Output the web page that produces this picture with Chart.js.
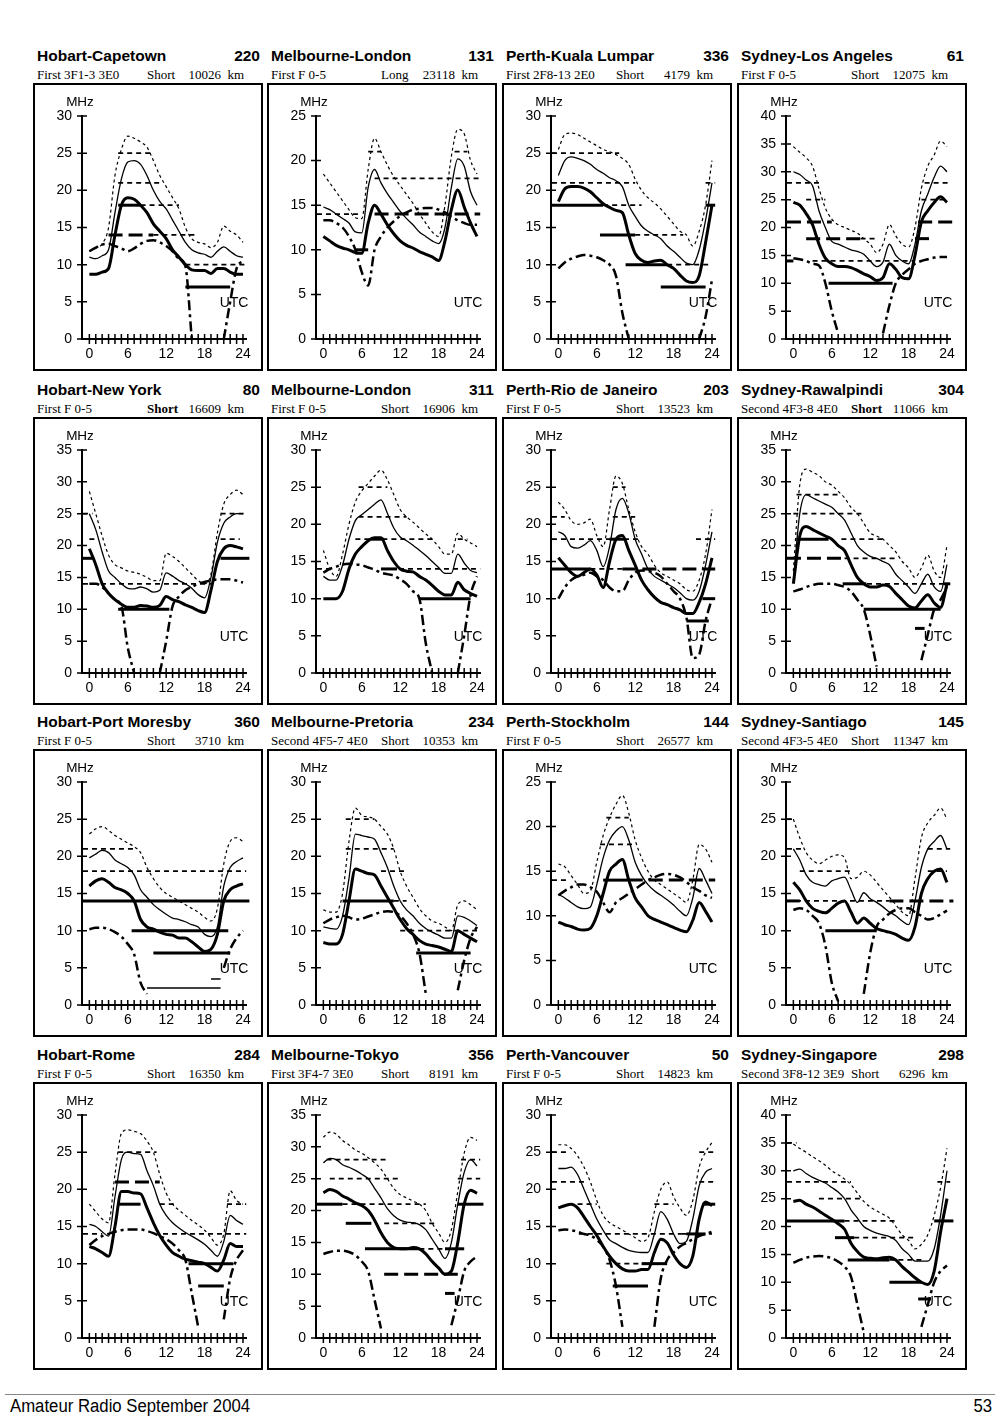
<!DOCTYPE html>
<html>
<head>
<meta charset="utf-8">
<script src="https://cdn.jsdelivr.net/npm/chart.js@4.4.1/dist/chart.umd.min.js"></script>
<style>
  body { margin: 0; background: #fff; width: 1000px; height: 1423px; position: relative; font-family: "Liberation Sans", Arial, sans-serif; }
  .title { position: absolute; font-weight: bold; font-size: 15.5px; line-height: 16px; white-space: nowrap; }
  .sub { position: absolute; font-family: "Liberation Serif", "Times New Roman", serif; font-size: 13px; line-height: 14px; white-space: pre; }
  .box { position: absolute; width: 230px; height: 288px; box-sizing: border-box; border: 2px solid #000; }
  .box canvas { position: absolute; left: 0; top: 0; }
  .rule { position: absolute; left: 5px; top: 1394px; width: 990px; height: 1px; background: #888; }
  .foot { position: absolute; top: 1396px; font-family: "Liberation Sans", Arial, sans-serif; font-size: 18px; line-height: 20px; transform: scaleX(0.93); }
</style>
</head>
<body>
<div class="rule"></div>
<div class="foot" style="left:10px; transform-origin:left center">Amateur Radio September 2004</div>
<div class="foot" style="right:8px; transform-origin:right center">53</div>
<script>
// panel headers, row by row
const paths = ['Hobart-Capetown', 'Melbourne-London', 'Perth-Kuala Lumpar', 'Sydney-Los Angeles',
  'Hobart-New York', 'Melbourne-London', 'Perth-Rio de Janeiro', 'Sydney-Rawalpindi',
  'Hobart-Port Moresby', 'Melbourne-Pretoria', 'Perth-Stockholm', 'Sydney-Santiago',
  'Hobart-Rome', 'Melbourne-Tokyo', 'Perth-Vancouver', 'Sydney-Singapore'];
const bearings = [220, 131, 336, 61, 80, 311, 203, 304, 360, 234, 144, 145, 284, 356, 50, 298];
const modes = ['First 3F1-3 3E0', 'First F 0-5', 'First 2F8-13 2E0', 'First F 0-5',
  'First F 0-5', 'First F 0-5', 'First F 0-5', 'Second 4F3-8 4E0',
  'First F 0-5', 'Second 4F5-7 4E0', 'First F 0-5', 'Second 4F3-5 4E0',
  'First F 0-5', 'First 3F4-7 3E0', 'First F 0-5', 'Second 3F8-12 3E9'];
const routes = ['Short', 'Long', 'Short', 'Short', 'Short', 'Short', 'Short', 'Short',
  'Short', 'Short', 'Short', 'Short', 'Short', 'Short', 'Short', 'Short'];
const distances = [10026, 23118, 4179, 12075, 16609, 16906, 13523, 11066,
  3710, 10353, 26577, 11347, 16350, 8191, 14823, 6296];
const yMax = [30, 25, 30, 40, 35, 30, 30, 35, 30, 30, 25, 30, 30, 35, 30, 40];

const hours = [0, 1, 2, 3, 4, 5, 6, 7, 8, 9, 10, 11, 12, 13, 14, 15, 16, 17, 18, 19, 20, 21, 22, 23, 24];

// dotted upper curve (MHz per hour)
const mufHigh = [
  [11.8, 12.2, 12.8, 15, 22, 25.5, 27.3, 27, 26.5, 25.8, 24, 22, 20.5, 19, 17.5, 15, 13.5, 13, 12.8, 12.3, 13, 15.2, 14.5, 14, 13],
  [18.5, 17.5, 16.5, 15.5, 14.5, 13.6, 13.5, 19, 22.5, 21, 19.5, 18.2, 17.2, 16.2, 15.2, 14, 13, 12, 11.5, 15, 20.5, 23.5, 23, 20, 18.5],
  [25.5, 27.5, 27.7, 27.5, 27, 26.5, 26, 25.5, 25.2, 24.8, 24.3, 23.5, 21.5, 20, 19, 18.3, 17.5, 16.5, 15.5, 14.5, 14, 12.5, 14.5, 18, 24],
  [34.5, 33.5, 32.5, 31, 27, 23.5, 21.5, 20.5, 20, 19.5, 19, 18, 17, 15.5, 17, 20.5, 18.5, 17, 16.5, 20, 27, 31, 33, 35.5, 34.5],
  [28.5, 25, 21.5, 18.5, 17, 16.5, 16, 15.8, 15.5, 15, 14.5, 14.5, 18.8, 18.3, 17.5, 16.5, 15.5, 14.5, 14, 15.5, 22, 26.5, 28, 28.7, 28],
  [16.5, 14, 13, 16, 20, 23, 24.5, 25.5, 26.5, 27.3, 26, 24, 22, 21, 20.3, 19.5, 18.7, 18, 17, 16, 16, 18.8, 18, 17.5, 17],
  [23, 22, 20.5, 20, 20.2, 20.7, 18.5, 17, 22, 26.5, 25.5, 22, 19, 17, 16, 14.5, 13.5, 13, 12.5, 12, 11.2, 11, 12.5, 16, 22],
  [16, 29.5, 32, 31.5, 31, 30, 29.5, 28.5, 27.5, 26, 25, 23.5, 22, 21.5, 21, 20, 19, 17.5, 16.5, 15, 16.5, 18.5, 16, 15, 20],
  [23, 23.7, 24, 23.5, 22.8, 22.3, 21.8, 21.3, 20.5, 18.5, 17, 15.8, 15, 14.5, 14, 13.5, 13, 12.5, 11.8, 11.3, 13, 19, 22, 22.5, 22],
  [12.8, 12.5, 12.5, 15, 22, 26.5, 25.5, 25.3, 25, 24, 23, 21, 18, 16, 14.5, 13, 12, 11.3, 11, 10.5, 10, 13.5, 14, 13.5, 12.8],
  [15.8, 15.5, 14.5, 13.5, 12.5, 12.8, 16, 19, 21, 22.5, 23.5, 21.5, 18.5, 16.5, 15, 14, 13.5, 13, 12.5, 12, 11.5, 14, 18, 17.5, 16],
  [25, 22.5, 20.5, 19.5, 19, 19.5, 20, 20.2, 19.8, 17, 17.2, 18, 17.5, 16.5, 15.5, 14.5, 13.5, 12.5, 12, 17, 22.5, 24.5, 25.5, 26.5, 25],
  [18, 17, 16, 15.5, 22, 27.5, 28, 27.8, 27.5, 26.5, 25, 22, 19.5, 18, 17.2, 16.5, 15.8, 15.2, 14.5, 13.5, 12.5, 14, 19.8, 18.5, 18],
  [31.5, 32.3, 32, 31, 30.3, 29.5, 29, 28.3, 27.5, 26.5, 25, 23.5, 22.5, 22, 21.5, 21, 20, 18, 16.5, 15, 17, 23, 29, 31.5, 31],
  [26, 26, 25.5, 24.5, 23, 21, 18.5, 16.5, 15.5, 15, 14.5, 14, 13.5, 13, 13.5, 17, 20, 21, 19, 17.5, 16.5, 18.5, 23, 25, 26.3],
  [34.8, 34, 33.3, 32.5, 31.8, 31, 30, 29.3, 28.5, 27.5, 26, 24.5, 23.5, 22.8, 22.2, 21.5, 20, 18.5, 17.5, 16, 16.8, 18.5, 22, 27, 34]
];

// thin solid curve
const mufMedian = [
  [11, 10.8, 11.2, 12, 17, 21.5, 23.8, 24, 23.5, 22, 20, 18.5, 17.5, 16, 14.5, 13, 12, 11.6, 11.4, 11, 11.8, 12.4, 11.8, 11.2, 11],
  [14.8, 14.5, 14, 13.5, 13, 12, 11.9, 17, 19, 17.5, 16.3, 15.3, 14.3, 13.5, 12.8, 12, 11.5, 11, 10.7, 12.5, 17, 20.2, 19.4, 16.5, 15],
  [22, 24, 24.5, 24.3, 24, 23.5, 22.8, 22.3, 21.7, 21.3, 20.5, 18, 16.5, 15.2, 14.5, 14, 13.5, 12.5, 11.8, 11, 10.2, 10, 12, 16, 21],
  [30, 29.5, 28.5, 27.5, 23, 20, 17.5, 17, 16.5, 16, 15.7, 15.2, 14, 13, 13.8, 17, 15, 14, 13.5, 17, 23, 26, 29, 31, 30],
  [25, 22.5, 19, 16, 15, 14, 13.3, 13.2, 13.5, 13.2, 12.7, 13, 15.7, 15.2, 14.5, 14, 13.3, 12.3, 11.8, 15, 20.5, 23.5, 24.5, 25, 25],
  [13, 12.5, 12.5, 14.5, 18, 20.5, 21.3, 22, 22.7, 23.3, 21.5, 19.5, 18.3, 17.8, 17.2, 16.5, 15.8, 15, 14.2, 13.4, 13.4, 16, 14.8, 13.8, 13.5],
  [19, 18.5, 17, 16.8, 17.2, 17.8, 16.5, 14.3, 17, 22, 23.5, 21.5, 18, 16, 14, 13, 12.5, 12, 11.5, 10.8, 10, 9.8, 11, 14.5, 19],
  [14.5, 25, 28, 27.5, 27, 26.5, 26, 25, 24, 22, 20, 19, 18.3, 18, 17.5, 17, 15.5, 14.5, 13.5, 12.5, 14, 15.5, 13.5, 12.8, 17],
  [19.8, 20.3, 20.8, 20.5, 19.5, 19, 18.5, 17.5, 15.5, 14.5, 13.5, 12.8, 12.2, 11.7, 11.5, 11.2, 10.8, 10.5, 9.5, 9.2, 10.5, 16, 18.5, 19.3, 19.8],
  [10.5, 10.3, 10.2, 12, 17, 23, 22.8, 22.6, 22.3, 20.5, 18.5, 16, 14, 12.8, 12, 11, 10.3, 9.8, 9.4, 9, 9, 12, 11.8, 11.3, 10.7],
  [12.4, 12, 11.5, 11, 10.8, 11, 13.5, 16.5, 18.5, 19.5, 20, 18.5, 16, 14.5, 13.5, 12.8, 12.3, 11.8, 11.2, 10.5, 10, 12, 15.3, 14, 12.5],
  [21, 19.5, 17.5, 16.5, 16.2, 16, 16.7, 17, 17.2, 15.5, 13.8, 15.1, 14.3, 13.8, 13.2, 12.5, 12, 11.3, 10.8, 14, 18.5, 21, 22, 22.8, 21],
  [15.3, 15, 14.3, 13.7, 19, 24, 25, 24.8, 24.7, 22.5, 20.5, 18, 16.5, 15.5, 14.8, 14.2, 13.7, 13.2, 12.6, 11.8, 11, 13, 16.5, 15.8, 15.3],
  [27.5, 28.2, 28, 27.2, 26.8, 26.3, 25.7, 25, 23.5, 22, 20.3, 19.2, 18.5, 18.2, 18.1, 17.8, 17, 15.5, 14, 12.5, 15, 21, 26, 28, 27],
  [22.8, 22.8, 23, 22, 20, 18, 16, 14.5, 13.2, 12.7, 12.2, 11.8, 11.6, 11.5, 11.5, 14, 17, 16, 14, 12.7, 13, 16, 20.5, 22.3, 22.8],
  [30, 30.3, 29.5, 28.8, 28.3, 27.8, 27, 26.2, 25, 23, 21.5, 20, 19.3, 18.8, 18.5, 18.2, 17.5, 16, 15, 13.8, 13.8, 13.8, 16, 22, 30]
];

// thick solid curve
const mufLow = [
  [8.7, 8.7, 9, 9.5, 14, 18, 19, 18.8, 18, 17, 15.5, 14.5, 13.5, 12, 11, 10, 9.3, 9.2, 9.2, 8.8, 9.5, 9.5, 9, 8.7, 8.7],
  [11.5, 11, 10.5, 10.2, 10, 9.7, 9.6, 13, 15, 14, 12.8, 11.8, 11, 10.5, 10.2, 9.8, 9.5, 9.2, 8.8, 11, 14.5, 16.7, 14.8, 13, 11.5],
  [18.5, 20.2, 20.5, 20.5, 20.3, 19.8, 19, 18.2, 17.7, 17.3, 17, 14, 11.5, 10.6, 10.3, 10.5, 10.6, 10, 9.5, 8.6, 7.8, 7.6, 8.5, 13, 18],
  [24.5, 24, 22.5, 20.5, 17, 14.5, 13.5, 13, 13, 12.8, 12.3, 11.7, 11.2, 10.5, 11, 13.5, 12.5, 11, 10.8, 15, 21, 23, 24.5, 25.5, 24.5],
  [19.5, 17, 14, 12.5, 11.5, 10.8, 10.3, 10.3, 10.6, 10.5, 10.3, 10.6, 12, 11.5, 11.2, 10.7, 10.3, 9.8, 9.5, 13, 17.5, 19.5, 20, 19.8, 19.5],
  [10, 10, 10, 11, 14, 16, 17, 17.8, 18.2, 18.2, 16.5, 15, 14, 13.7, 13.6, 13, 12.5, 11.8, 11, 10.5, 10.5, 12.2, 11.2, 10.7, 10.3],
  [15.5, 14.5, 13.5, 13, 13.5, 14, 13.2, 11.5, 15, 18, 18.5, 16.5, 14.5, 12.5, 11.2, 10.2, 9.5, 9.2, 8.8, 8.5, 8, 8, 9.5, 12, 15.5],
  [14, 21.5, 23, 22.5, 22, 21.5, 21, 20, 19.2, 17, 15, 14, 13.5, 13.5, 13.8, 13.6, 12.5, 11.5, 10.5, 10.2, 11.3, 12.3, 11, 10.3, 14],
  [16, 16.7, 17, 16.5, 15.8, 15.5, 15, 14, 11.5, 10.5, 10.2, 9.8, 9.5, 9.4, 9, 9, 8.5, 7.8, 7.2, 7.5, 9.5, 14, 15.5, 16, 16.3],
  [8.4, 8.2, 8.2, 9.5, 14, 18.3, 18, 17.7, 17.5, 16, 14.5, 13, 11.5, 10.3, 9.5, 8.7, 8.2, 8, 7.8, 7.5, 7.2, 10, 9.5, 9, 8.5],
  [9.3, 9, 8.8, 8.5, 8.4, 8.6, 10, 12.5, 15, 15.8, 16.3, 14, 12, 11, 10, 9.6, 9.3, 9, 8.7, 8.4, 8.2, 9.5, 11.5, 10.5, 9.3],
  [16.5, 15.5, 14, 13, 12.6, 12.4, 13, 13.7, 14, 12.5, 11, 11.7, 11, 10.3, 10, 9.8, 9.5, 9, 8.7, 10.5, 15, 17, 18, 18.3, 16.5],
  [12.3, 12, 11.5, 11, 15, 19.7, 19.7, 19.5, 19.4, 17.5, 15.5, 13.8, 12.5, 11.5, 11, 10.6, 10.4, 10.2, 10, 9.5, 9, 10.5, 12.7, 12.3, 12.3],
  [22.8, 23.3, 23, 22.3, 21.8, 21.2, 20.8, 20, 18.5, 16.5, 15, 14.2, 14, 14, 14.2, 14, 13.2, 12, 11, 10, 10.5, 15, 21, 23.2, 22.7],
  [17.5, 17.8, 18, 17.5, 16.3, 15, 13.8, 12.3, 11, 10, 9.3, 9, 9, 9.2, 9.2, 11.5, 13.3, 12.8, 11.2, 10, 9.5, 11, 16, 18.3, 17.8],
  [24.5, 24.7, 24, 23.5, 22.8, 22, 21.3, 20.5, 19.5, 17, 15.5, 14.5, 14.3, 14.2, 14.4, 14.5, 14, 12.8, 11.8, 10.8, 10, 9.6, 12, 19, 25]
];

// dash-dot curve (null where it is not drawn)
const dashDot = [
  [11.8, 12.3, 12.7, 12.8, 12.5, 12.2, 11.8, 12.2, 12.8, 13.2, 13.3, 13, 12.5, 11.8, 10.8, 9.8, 0, null, null, null, null, 0, 5, 9.5, 10.5],
  [13.3, 13.3, 13, 12.5, 11.5, 10, 7.5, 6, 10, 11.5, 12.5, 13.2, 13.8, 14.2, 14.5, 14.6, 14.7, 14.7, 14.5, 14.2, 13.7, 13.3, 13, 12.8, 12.8],
  [9.5, 10.3, 10.8, 11.1, 11.3, 11.2, 11, 10.6, 10, 8.5, 3.5, 0, null, null, null, null, null, null, null, null, null, null, 0, 3, 8],
  [14.5, 14.3, 14, 13.5, 13.2, 10, 5, 1, null, null, null, null, null, null, 1, 6, 10, 11.5, 12.5, 13.5, 14, 14.3, 14.6, 14.7, 14.7],
  [14, 14, 13.5, 12.5, 11.5, 10.5, 4, 0, null, null, null, 0, 5, 10.5, 12, 13, 13.5, 14, 14.3, 14.5, 14.7, 14.7, 14.7, 14.5, 14.2],
  [13.5, 14, 14.3, 14.6, 14.7, 14.6, 14.5, 14.2, 13.9, 13.5, 13.3, 13.1, 12.6, 12, 11, 10, 4, 0, null, null, null, 0, 5, 10.5, 13],
  [10, 11.5, 12.5, 13, 13.2, 13.5, 13, 12.5, 11.5, 11, 11, 12.5, 13.5, 13.8, 13.7, 13.5, 13, 12, 11, 10, 7.5, 2, 2.5, 7, 10],
  [12.8, 13.1, 13.5, 13.8, 14, 14, 14, 13.8, 13.5, 12.8, 11.5, 10, 6, 1, null, null, null, null, null, null, 2, 6, 10, 11.5, 13.5],
  [10.2, 10.4, 10.4, 10.2, 9.8, 9.2, 8.2, 6.8, 3, 1.5, null, null, null, null, null, null, null, null, null, null, null, 5, 7.5, 9, 10],
  [11, 11.5, 11.8, 12, 11.8, 11.5, 11.6, 11.9, 12.2, 12.5, 12.6, 12.5, 12, 11, 9.5, 7, 1.5, null, null, null, null, 2, 6, 9, 10.5],
  [12.3, 12.8, 13.2, 13.5, 13.5, 13.2, 12.7, 11.5, 10.4, 11.5, 12, 12.5, 13, 13.5, 14, 14.3, 14.6, 14.7, 14.6, 14.3, 13.8, 13.2, 12.8, 12.3, 12],
  [12.8, 13, 12.8, 12, 11, 8, 3, 0.5, null, null, null, 1.5, 7, 10.5, 11.5, 12.3, 12.8, 13, 13, 12.5, 12, 11.5, 11.7, 12.2, 12.7],
  [12.5, 13.2, 13.7, 14, 14.3, 14.5, 14.6, 14.6, 14.6, 14.4, 14.1, 13.7, 13.3, 12.7, 11.8, 10.5, 6, 1.5, null, null, null, 2.5, 8, 10.5, 11.8],
  [13.2, 13.5, 13.7, 13.7, 13.5, 13, 12, 10.5, 6, 1.5, null, null, null, null, null, null, null, null, null, null, 2, 6, 10.5, 12, 12.8],
  [14.5, 14.6, 14.5, 14.3, 14, 13.8, 13.2, 12.3, 10.5, 7, 1.5, null, null, null, null, 1.5, 8, 10.5, 11.5, 12.3, 12.8, 13.3, 13.7, 14, 14.3],
  [13.5, 14, 14.4, 14.6, 14.7, 14.6, 14.3, 13.7, 12.8, 11, 6, 1, null, null, null, null, null, null, null, null, 2, 6, 10, 12, 13]
];

// horizontal bands: [kind, from hour, to hour, MHz]
const bands = [
  [['dash', 4.5, 9.5, 25], ['dash', 4.5, 11.5, 21], ['bar', 4.5, 8, 18], ['dash', 8, 14, 18], ['long', 3, 10, 14], ['dash', 10, 16.5, 14], ['dash', 15, 24.5, 10], ['bar', 15, 22, 7]],
  [['dash', 7, 9, 21], ['dash', 8, 24.5, 18], ['dash', 20.5, 22.5, 21], ['dash', -1, 6, 14], ['long', 8, 24.5, 14], ['bar', 5, 7, 10]],
  [['dash', -1, 9.5, 25], ['dash', -1, 12, 21], ['bar', -1, 7, 18], ['dash', 7, 13, 18], ['bar', 6.5, 12, 14], ['dash', 12, 19.5, 14], ['bar', 10.5, 17, 10], ['dash', 17, 24, 10], ['bar', 16, 23, 7], ['bar', 23, 24.5, 18], ['dash', 23, 24.5, 21]],
  [['dash', -1, 4, 28], ['dash', 2, 5, 25], ['long', -1, 6, 21], ['long', 2, 10.5, 18], ['dash', 10.5, 13, 18], ['dash', 3, 19, 14], ['bar', -1, 0, 14], ['bar', 5.5, 15.5, 10], ['dash', 20.5, 24.5, 28], ['dash', 20, 23.5, 25], ['long', 19.5, 25, 21], ['long', 19, 21.5, 18]],
  [['dash', -1, 0.5, 25], ['dash', 0, 1.5, 21], ['bar', -1, 0.5, 18], ['dash', -1, 19, 14], ['bar', 4.5, 12.5, 10], ['dash', 20.5, 24.5, 25], ['dash', 20.5, 23.5, 21], ['bar', 20.5, 25, 18]],
  [['dash', 5.5, 10, 25], ['dash', 5.5, 13, 21], ['dash', 5, 17, 18], ['bar', 7.5, 9.5, 18], ['dash', -1, 1, 14], ['dash', 9, 24.5, 14], ['bar', 9, 11.5, 14], ['bar', 15, 23, 10], ['dash', 21, 22.5, 18]],
  [['dash', -1, 1, 21], ['dash', -1, 13, 18], ['bar', 8, 10.5, 18], ['dash', 8.5, 10.5, 25], ['dash', 8.5, 12, 21], ['bar', -1, 5, 14], ['dash', 5, 10, 14], ['long', 10, 24.5, 14], ['dash', 21.5, 24.5, 18], ['bar', 22.5, 24.5, 10], ['bar', 20, 23.5, 7]],
  [['dash', 0.5, 7, 28], ['dash', 0, 11, 25], ['bar', 0.5, 5.5, 21], ['dash', 7.5, 14, 21], ['long', -1, 8, 18], ['dash', 8, 16, 18], ['bar', 7.7, 11.4, 14], ['dash', 11.5, 24.5, 14], ['bar', 11, 23, 10], ['bar', 19, 20.5, 7], ['bar', 23.5, 24.5, 14]],
  [['dash', -1, 7, 21], ['dash', -1, 24.5, 18], ['bar', -1, 25, 14], ['bar', 6.6, 21.7, 10], ['bar', 10, 22, 7], ['thin', 9, 20.5, 2.3], ['thin', 19, 20.5, 3.5]],
  [['dash', 3.5, 8, 25], ['dash', 3.5, 11, 21], ['dash', 9, 13, 18], ['bar', 3, 11, 14], ['dash', 11, 13, 14], ['dash', 12, 24, 10], ['bar', 14.5, 23, 7]],
  [['dash', -1, 1.5, 14], ['dash', 7.5, 11, 21], ['dash', 6.5, 12, 18], ['bar', 7, 11, 14], ['long', 11, 24.5, 14]],
  [['dash', -1, 0, 25], ['dash', -1, 1.5, 21], ['dash', 1, 9, 18], ['dash', -1, 15, 14], ['long', 15, 25, 14], ['bar', -1, 1, 14], ['bar', 5, 13, 10], ['dash', 21, 24.5, 21], ['dash', 21, 24, 18]],
  [['dash', -1, 2, 14], ['dash', 4.5, 10.5, 25], ['long', 4, 11, 21], ['bar', 4.5, 8, 18], ['dash', 11, 13.5, 18], ['dash', 11.5, 24.5, 14], ['bar', 15.5, 22.5, 10], ['bar', 17, 21, 7], ['dash', 21.5, 24.5, 18]],
  [['dash', 0.5, 10, 28], ['dash', 1, 12, 25], ['bar', -1, 3, 21], ['dash', 3, 16, 21], ['bar', 3.5, 7.5, 18], ['dash', 9.5, 17.5, 18], ['bar', 6.5, 15, 14], ['dash', 15, 19, 14], ['bar', 19, 22, 14], ['long', 9.5, 21, 10], ['bar', 19, 20.5, 7], ['dash', 21.5, 24.5, 28], ['dash', 21, 24.5, 25], ['bar', 21, 25, 21]],
  [['dash', -1, 1.5, 25], ['dash', -1, 4, 21], ['dash', 3, 6, 18], ['dash', 3.2, 19.3, 14], ['dash', 7.5, 14, 10], ['bar', 13, 17, 10], ['bar', 8.5, 14, 7], ['dash', 15, 18, 18], ['dash', 22, 24.5, 25], ['dash', 22, 24.5, 21], ['bar', 22.5, 24.5, 18], ['bar', 20, 23, 14], ['dash', 19.3, 24, 14]],
  [['dash', -1, 0.5, 35], ['dash', -1, 9, 28], ['dash', 4, 11, 25], ['bar', -1, 8, 21], ['dash', 8, 16, 21], ['bar', 6.5, 9.5, 18], ['dash', 9.5, 19, 18], ['bar', 8.5, 15, 14], ['dash', 15, 20, 14], ['bar', 15, 20, 10], ['bar', 19.5, 21.5, 7], ['dash', 22.5, 24.5, 28], ['bar', 22, 25, 21]]
];

// page layout
const colX = [33, 267, 502, 737];
const rowY = [83, 417, 749, 1082];
const boldRoute = [4, 7];

const bandStyle = {
  dash: { borderWidth: 1.8, borderDash: [5, 4] },
  bar: { borderWidth: 3 },
  long: { borderWidth: 3, borderDash: [14, 6] },
  thin: { borderWidth: 1.5 }
};

Chart.defaults.font.family = '"Liberation Sans", Arial, sans-serif';
Chart.defaults.color = '#000';

// cross ticks on both axes plus the MHz / UTC captions
const frame = {
  id: 'frame',
  afterDraw(chart) {
    const { ctx, chartArea: a, scales: { x, y } } = chart;
    ctx.save();
    ctx.strokeStyle = '#000';
    ctx.lineWidth = 1.5;
    ctx.beginPath();
    hours.forEach(h => {
      const px = x.getPixelForValue(h);
      ctx.moveTo(px, a.bottom - 5);
      ctx.lineTo(px, a.bottom + 5);
    });
    for (let v = 0; v <= y.max; v += 5) {
      const py = y.getPixelForValue(v);
      ctx.moveTo(a.left - 5, py);
      ctx.lineTo(a.left + 5, py);
    }
    ctx.stroke();
    ctx.fillStyle = '#000';
    ctx.textAlign = 'center';
    ctx.textBaseline = 'middle';
    ctx.font = '13.5px "Liberation Sans", Arial, sans-serif';
    ctx.fillText('MHz', a.left - 2, a.top - 14);
    ctx.font = '14px "Liberation Sans", Arial, sans-serif';
    ctx.fillText('UTC', x.getPixelForValue(22.6), a.bottom - 36);
    ctx.restore();
  }
};

function curve(vals, style) {
  return Object.assign({
    data: hours.map((h, k) => ({ x: h, y: vals[k] })),
    borderColor: '#000',
    cubicInterpolationMode: 'monotone',
    spanGaps: false,
    clip: 10
  }, style);
}

function addDiv(cls, text, css) {
  const d = document.createElement('div');
  d.className = cls;
  d.textContent = text;
  Object.assign(d.style, css);
  document.body.appendChild(d);
  return d;
}

paths.forEach((name, i) => {
  const left = colX[i % 4];
  const top = rowY[Math.floor(i / 4)];

  addDiv('title', name, { left: (left + 4) + 'px', top: (top - 35) + 'px' });
  addDiv('title', String(bearings[i]), { left: left + 'px', top: (top - 35) + 'px', width: '227px', textAlign: 'right' });
  addDiv('sub', modes[i], { left: (left + 4) + 'px', top: (top - 15) + 'px' });
  const r = addDiv('sub', routes[i], { left: (left + 114) + 'px', top: (top - 15) + 'px' });
  if (boldRoute.includes(i)) r.style.fontWeight = 'bold';
  addDiv('sub', distances[i] + '  km', { left: left + 'px', top: (top - 15) + 'px', width: '211px', textAlign: 'right' });

  const box = document.createElement('div');
  box.className = 'box';
  box.style.left = left + 'px';
  box.style.top = top + 'px';
  const canvas = document.createElement('canvas');
  canvas.width = 226;
  canvas.height = 284;
  box.appendChild(canvas);
  document.body.appendChild(box);

  const datasets = bands[i].map(([kind, x0, x1, v]) => Object.assign({
    data: [{ x: x0, y: v }, { x: x1, y: v }],
    borderColor: '#000',
    clip: 12
  }, bandStyle[kind]));
  datasets.push(curve(dashDot[i], { borderWidth: 2.5, borderDash: [10, 4, 3, 4] }));
  datasets.push(curve(mufHigh[i], { borderWidth: 1.2, borderDash: [3, 3] }));
  datasets.push(curve(mufMedian[i], { borderWidth: 1.3 }));
  datasets.push(curve(mufLow[i], { borderWidth: 3 }));

  new Chart(canvas, {
    type: 'line',
    data: { datasets },
    options: {
      responsive: false,
      animation: false,
      events: [],
      layout: { padding: { left: 0, top: 31, right: 15, bottom: 0 } },
      elements: { point: { radius: 0 } },
      plugins: { legend: { display: false }, tooltip: { enabled: false } },
      scales: {
        x: {
          type: 'linear',
          min: -1.15,
          max: 24.47,
          afterFit: s => { s.height = 30; },
          border: { color: '#000', width: 2 },
          grid: { drawOnChartArea: false, color: 'transparent', tickLength: 4 },
          ticks: {
            stepSize: 1, autoSkip: false, includeBounds: false, maxRotation: 0, padding: 3,
            font: { size: 14 },
            callback: v => (v >= 0 && v % 6 === 0 ? String(v) : '')
          }
        },
        y: {
          min: 0,
          max: yMax[i],
          afterFit: s => { s.width = 47; },
          border: { color: '#000', width: 2 },
          grid: { drawOnChartArea: false, color: 'transparent', tickLength: 5 },
          ticks: { stepSize: 5, padding: 5, font: { size: 14 } }
        }
      }
    },
    plugins: [frame]
  });
});
</script>
</body>
</html>
